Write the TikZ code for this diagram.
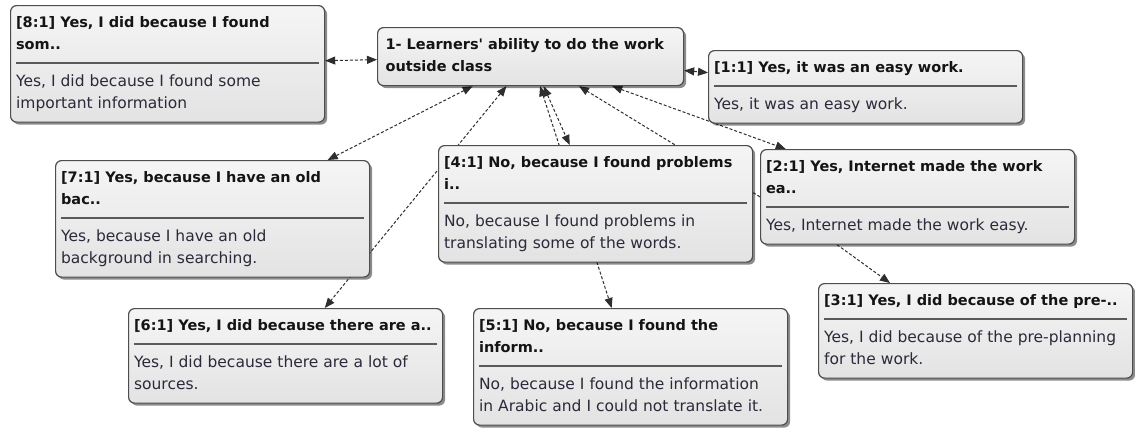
\documentclass[tikz,border=0pt]{standalone}
\usepackage{fontspec}
\setmainfont{DejaVu Sans}
\usepackage{xcolor}
\usetikzlibrary{arrows.meta,shadows,backgrounds}

\definecolor{boxline}{HTML}{4D4D4D}
\definecolor{sepline}{HTML}{5A5A5A}
\definecolor{headtext}{HTML}{141414}
\definecolor{bodytext}{HTML}{2A2A3A}
\definecolor{linkline}{HTML}{2E2E2E}

\newcommand{\topstrut}{\rule{0pt}{12pt}}
\newcommand{\botstrut}{\rule[-4pt]{0pt}{4pt}}
\newcommand{\headfont}{\fontsize{14.5pt}{22pt}\selectfont\bfseries}
\newcommand{\bodyfont}{\fontsize{15.5pt}{22pt}\selectfont}
\newcommand{\qcontent}[2]{%
  {\headfont\topstrut\color{headtext}#1\botstrut\par}%
  \vspace{8.8pt}{\color{sepline}\hrule height 1.4pt}\vspace{10.3pt}%
  {\bodyfont\topstrut\color{bodytext}#2\botstrut\par}}

\begin{document}
\begin{tikzpicture}[
    x=1pt, y=-1pt,
    qbox/.style={rectangle, draw=boxline, line width=1.2pt, rounded corners=6pt,
        top color=white!96!black, bottom color=white!89!black,
        drop shadow={shadow xshift=2.5pt, shadow yshift=-2.5pt, opacity=0.45, fill=black},
        anchor=north west, align=left, text width=303pt, inner xsep=5.5pt, inner ysep=10pt,
        font=\fontsize{15pt}{22pt}\selectfont},
    code/.style={qbox, text width=290pt, inner xsep=8pt},
    link/.style={draw=linkline, line width=1pt, dash pattern=on 3pt off 2pt,
        >={Triangle[length=10pt, width=8pt]}}
]
\useasboundingbox (0,0) rectangle (1135,429);

% Code
\node[code] (c1) at (377,27) {\headfont\topstrut\color{headtext}1- Learners\textquotesingle{} ability to do the work\\outside class\botstrut};

% Quotations
\node[qbox] (q8) at (10,5) {\qcontent{[8:1] Yes, I did because I found\\som..}{Yes, I did because I found some\\important information}};
\node[qbox] (q1) at (708,50) {\qcontent{[1:1] Yes, it was an easy work.}{Yes, it was an easy work.}};
\node[qbox] (q7) at (55,160) {\qcontent{[7:1] Yes, because I have an old\\bac..}{Yes, because I have an old\\background in searching.}};
\node[qbox] (q4) at (438,145) {\qcontent{[4:1] No, because I found problems\\i..}{No, because I found problems in\\translating some of the words.}};
\node[qbox] (q2) at (760,149) {\qcontent{[2:1] Yes, Internet made the work\\ea..}{Yes, Internet made the work easy.}};
\node[qbox] (q6) at (128,308) {\qcontent{[6:1] Yes, I did because there are a..}{Yes, I did because there are a lot of\\sources.}};
\node[qbox] (q5) at (473,308) {\qcontent{[5:1] No, because I found the\\inform..}{No, because I found the information\\in Arabic and I could not translate it.}};
\node[qbox] (q3) at (818,283) {\qcontent{[3:1] Yes, I did because of the pre-..}{Yes, I did because of the pre-planning\\for the work.}};

% Links
\begin{scope}[on background layer]
\fill[white] (0,0) rectangle (1135,429);
\draw[link, <->] (q8) -- (c1);
\draw[link, <->] (c1) -- (q1);
\draw[link, <->] (c1) -- (q7);
\draw[link, <->] (c1) -- (q6);
\draw[link, <->] (c1) -- (q5);
\draw[link, <->] (c1) -- (q4);
\draw[link, ->] (q2.west) -- (c1);
\draw[link, <->] (c1) -- (q2);
\draw[link, ->] ([xshift=77pt]q2.south west) -- ([xshift=72pt]q3.north west);
\end{scope}

\end{tikzpicture}
\end{document}
